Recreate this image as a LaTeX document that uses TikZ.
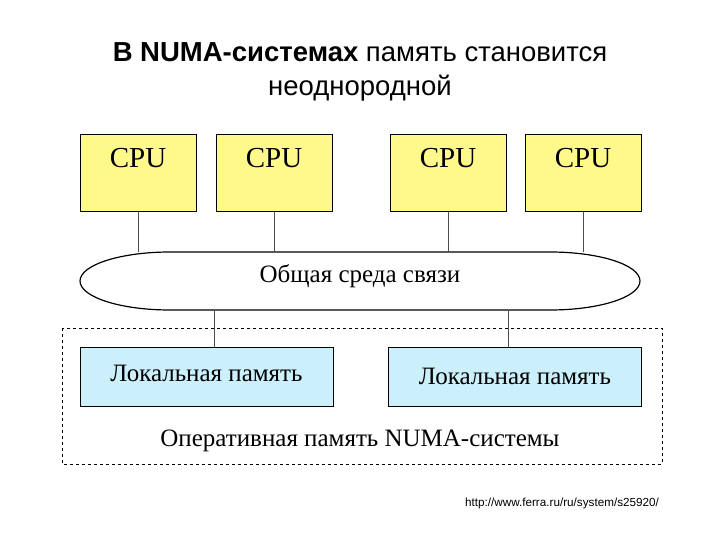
\documentclass[tikz,border=0pt]{standalone}
\usepackage{fontspec}
\setmainfont{Liberation Serif}
\newfontfamily\arial{Liberation Sans}
\begin{document}
\begin{tikzpicture}[x=1pt,y=-1pt,
  cpubox/.style={draw=black,line width=1pt,fill=yellow!45!white,minimum width=116pt,minimum height=77pt,inner sep=0pt},
  membox/.style={draw=black,line width=1pt,fill=cyan!20!white,minimum width=253pt,minimum height=59pt,inner sep=0pt,font=\fontsize{25}{28}\selectfont},
  lbl/.style={font=\fontsize{25}{28}\selectfont},
  wire/.style={draw=black!70,line width=1pt}]
\useasboundingbox (0,0) rectangle (720,540);
\fill[white] (0,0) rectangle (720,540);
\node[font=\arial\fontsize{27.5}{30}\selectfont] (t1) at (360,52) {\textbf{В NUMA-системах} память становится};
\node[font=\arial\fontsize{27.5}{30}\selectfont] (t2) at (360,88) {неоднородной};
\foreach \n/\x in {c1/138,c2/274,c3/448,c4/583}{
  \node[cpubox] (\n) at (\x,173.5) {};
  \node[font=\fontsize{29}{32}\selectfont] at (\x,158) {CPU};
}
\draw[line width=1.2pt,fill=white] (170,252) -- (550,252) arc[start angle=-90,end angle=90,x radius=90,y radius=29] -- (170,310) arc[start angle=90,end angle=270,x radius=90,y radius=29] -- cycle;
\node[lbl] (bus) at (360,276) {Общая среда связи};
\coordinate (btop) at (360,252);
\foreach \n in {c1,c2,c3,c4}{ \draw[wire] (\n.south) -- (\n.south |- btop); }
\draw[dashed,line width=0.8pt] (62,328) rectangle (662,464);
\node[membox] (m1) at (206.5,376.5) {\raisebox{6pt}{Локальная память}};
\node[membox] (m2) at (515,376.5) {Локальная память};
\draw[wire] (214,347) -- (214,310);
\draw[wire] (508,347) -- (508,310);
\node[lbl] (ram) at (360,441) {Оперативная память NUMA-системы};
\node[font=\arial\fontsize{11.7}{13}\selectfont] (url) at (562,503) {http://www.ferra.ru/ru/system/s25920/};
\end{tikzpicture}
\end{document}
